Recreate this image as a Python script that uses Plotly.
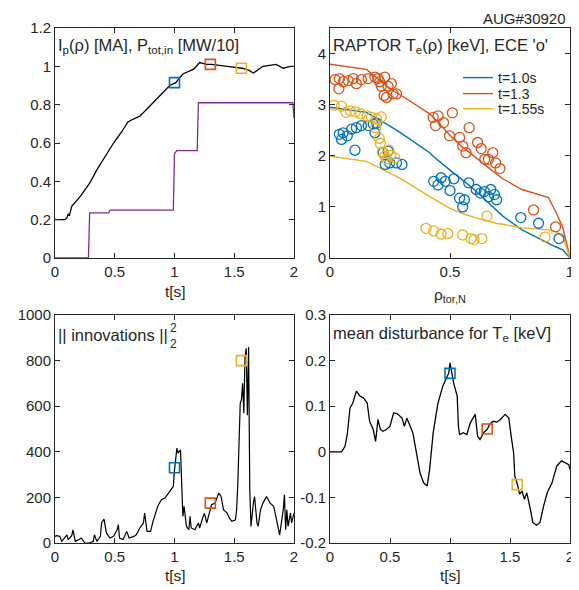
import plotly.graph_objects as go

OFF = 8  # browser body margin
W, H = 579 - OFF, 590 - OFF
BLUE, ORANGE, YELLOW, PURPLE = "#0072BD", "#D95319", "#EDB120", "#7E2F8E"
TXT = "#262626"
FONT = "Liberation Sans, Arial, sans-serif"

# ---- Panel 1: Ip and Ptot ----
ip_t = [0, 0.084, 0.1, 0.11, 0.12, 0.14, 0.21, 0.29, 0.35, 0.42, 0.49, 0.56, 0.61, 0.64, 0.71, 0.79,
        0.88, 0.96, 1.01, 1.07, 1.16, 1.21, 1.27, 1.31, 1.44, 1.565, 1.62, 1.66, 1.74, 1.85, 1.91, 1.97, 2.0]
ip_v = [0.2, 0.2, 0.21, 0.23, 0.22, 0.27, 0.32, 0.39, 0.46, 0.53, 0.6, 0.66, 0.71, 0.72, 0.74, 0.79,
        0.85, 0.9, 0.915, 0.96, 0.985, 1.02, 1.01, 1.01, 1.0, 0.99, 0.98, 0.965, 1.0, 1.01, 0.99, 1.0, 1.0]
p_t = [0, 0.28, 0.29, 0.45, 0.46, 0.99, 1.0, 1.02, 1.19, 1.2, 1.99, 2.0]
p_v = [0, 0, 0.235, 0.235, 0.25, 0.25, 0.545, 0.56, 0.56, 0.81, 0.81, 0.73]
mk1_t = [1.0, 1.3, 1.56]
mk1_v = [0.915, 1.01, 0.99]

# ---- Panel 2: Te profiles ----
rho = [0, 0.152, 0.25, 0.304, 0.415, 0.43, 0.5, 0.553, 0.567, 0.61, 0.678, 0.69, 0.72, 0.80, 0.91, 0.94, 0.97, 1.0]
te_10 = [2.95, 2.85, 2.58, 2.42, 2.06, 1.99, 1.72, 1.53, 1.47, 1.30, 1.0, 0.95, 0.82, 0.55, 0.28, 0.22, 0.16, 0.0]
te_13 = [3.79, 3.69, 3.31, 3.16, 2.82, 2.76, 2.40, 2.16, 2.12, 1.95, 1.70, 1.66, 1.55, 1.34, 1.18, 0.91, 0.6, 0.0]
te_155 = [1.99, 1.89, 1.66, 1.53, 1.2, 1.16, 0.97, 0.87, 0.85, 0.78, 0.70, 0.68, 0.66, 0.59, 0.55, 0.52, 0.41, 0.0]

ece13_r = [0.021, 0.039, 0.055, 0.037, 0.076, 0.097, 0.11, 0.131, 0.159, 0.187, 0.20, 0.207, 0.228, 0.214,
           0.242, 0.256, 0.225, 0.235, 0.263, 0.277, 0.43, 0.45, 0.44, 0.473, 0.51, 0.498, 0.54, 0.553,
           0.567, 0.58, 0.615, 0.63, 0.645, 0.66, 0.678, 0.69, 0.708, 0.848, 0.94]
ece13_v = [3.49, 3.51, 3.45, 3.31, 3.47, 3.51, 3.41, 3.49, 3.51, 3.54, 3.51, 3.45, 3.54, 3.36,
           3.36, 3.41, 3.18, 3.14, 3.21, 3.21, 2.75, 2.78, 2.59, 2.65, 2.84, 2.39, 2.36, 2.19,
           2.06, 2.55, 2.26, 2.14, 1.93, 1.93, 2.06, 1.86, 1.75, 0.94, 0.61]
ece10_r = [0.039, 0.055, 0.072, 0.048, 0.09, 0.11, 0.131, 0.159, 0.18, 0.194, 0.104, 0.187, 0.221, 0.242,
           0.23, 0.249, 0.277, 0.30, 0.432, 0.45, 0.463, 0.48, 0.5, 0.516, 0.54, 0.553, 0.56, 0.578,
           0.609, 0.627, 0.643, 0.66, 0.67, 0.685, 0.694, 0.795, 0.869, 0.954]
ece10_v = [2.42, 2.45, 2.39, 2.32, 2.52, 2.55, 2.59, 2.59, 2.62, 2.64, 2.11, 2.45, 2.06, 2.09,
           1.83, 1.86, 1.86, 1.83, 1.5, 1.43, 1.57, 1.5, 1.32, 1.55, 1.17, 1.0, 1.14, 1.47,
           1.34, 1.27, 1.3, 1.2, 1.34, 1.24, 1.14, 0.79, 0.68, 0.38]
ece155_r = [0.017, 0.048, 0.066, 0.085, 0.106, 0.127, 0.155, 0.173, 0.194, 0.214, 0.19, 0.205, 0.21, 0.218,
            0.228, 0.246, 0.253, 0.27, 0.235, 0.40, 0.432, 0.463, 0.491, 0.553, 0.588, 0.60, 0.633,
            0.654, 0.896]
ece155_v = [2.99, 2.97, 2.85, 2.88, 2.86, 2.82, 2.78, 2.75, 2.72, 2.76, 2.55, 2.34, 2.24, 2.07,
            1.99, 2.11, 2.01, 1.96, 1.94, 0.58, 0.53, 0.47, 0.48, 0.45, 0.38, 0.36, 0.38,
            0.82, 0.41]

# ---- Panel 3: innovations ----
inn_t = [0, 0.01, 0.04, 0.056, 0.08, 0.1, 0.11, 0.14, 0.15, 0.17, 0.2, 0.22, 0.25, 0.29, 0.32, 0.33, 0.35,
         0.38, 0.39, 0.41, 0.43, 0.46, 0.49, 0.52, 0.53, 0.54, 0.57, 0.6, 0.62, 0.66, 0.68, 0.71, 0.74,
         0.75, 0.77, 0.8, 0.82, 0.84, 0.86, 0.89, 0.92, 0.95, 0.99, 1.0, 1.02, 1.03, 1.05, 1.06, 1.07,
         1.08, 1.1, 1.12, 1.13, 1.14, 1.17, 1.2, 1.21, 1.24, 1.25, 1.27, 1.29, 1.31, 1.34, 1.37, 1.39,
         1.41, 1.44, 1.46, 1.48, 1.51, 1.52, 1.53, 1.55, 1.56, 1.57, 1.58, 1.59, 1.6, 1.61, 1.62, 1.63,
         1.64, 1.66, 1.67, 1.69, 1.7, 1.72, 1.74, 1.77, 1.8, 1.83, 1.86, 1.88, 1.91, 1.92, 1.93, 1.94,
         1.95, 1.97, 1.98, 2.0]
inn_v = [29, 32, 29, 7, 22, 36, 15, 32, 58, 7, 15, 22, 0, 0, 7, 36, 7,
         29, 88, 105, 44, 22, 29, 58, 80, 22, 15, 51, 22, 29, 36, 66, 88,
         131, 51, 51, 95, 131, 161, 190, 197, 219, 248, 321, 416, 394, 409, 263, 117,
         161, 73, 58, 117, 66, 58, 88, 66, 117, 131, 88, 131, 168, 175, 219, 204,
         146, 131, 109, 95, 102, 146, 263, 613, 628, 701, 569, 818, 854, 560, 860, 234,
         73, 175, 204, 88, 73, 146, 175, 204, 175, 161, 88, 36, 146, 212, 58, 146,
         73, 131, 88, 131]
mk3_t = [1.0, 1.3, 1.56]
mk3_v = [330, 175, 800]

# ---- Panel 4: mean disturbance ----
md_t = [0, 0.097, 0.125, 0.144, 0.167, 0.19, 0.22, 0.25, 0.28, 0.31, 0.33, 0.36, 0.38, 0.4, 0.42, 0.44,
        0.47, 0.5, 0.53, 0.56, 0.6, 0.62, 0.64, 0.67, 0.69, 0.72, 0.75, 0.78, 0.81, 0.83, 0.86, 0.9,
        0.94, 0.99, 1.0, 1.03, 1.06, 1.07, 1.08, 1.11, 1.14, 1.17, 1.19, 1.21, 1.23, 1.25, 1.28, 1.31,
        1.33, 1.36, 1.39, 1.42, 1.46, 1.49, 1.51, 1.53, 1.54, 1.56, 1.58, 1.6, 1.62, 1.64, 1.67, 1.69,
        1.72, 1.75, 1.78, 1.81, 1.85, 1.89, 1.93, 1.96, 1.99, 2.0]
md_v = [0, 0, 0.012, 0.038, 0.096, 0.107, 0.133, 0.122, 0.118, 0.107, 0.067, 0.049, 0.023, 0.071, 0.049, 0.045,
        0.049, 0.056, 0.085, 0.084, 0.074, 0.056, 0.074, 0.053, 0.042, -0.002, -0.046, -0.068, -0.075, -0.039, 0.042, 0.107,
        0.144, 0.173, 0.195, 0.151, 0.122, 0.056, 0.038, 0.042, 0.038, 0.064, 0.074, 0.082, 0.034, 0.027, 0.042, 0.049,
        0.060, 0.067, 0.065, 0.071, 0.082, 0.074, 0.034, -0.002, -0.053, -0.07, -0.093, -0.086, -0.104, -0.09, -0.126, -0.155,
        -0.161, -0.155, -0.119, -0.09, -0.068, -0.031, -0.02, -0.024, -0.028, -0.039]
mk4_t = [1.0, 1.31, 1.56]
mk4_v = [0.172, 0.05, -0.072]

mk_colors = [BLUE, ORANGE, YELLOW]

fig = go.Figure()

def sq(xs, ys, xa, ya):
    for x, y, c in zip(xs, ys, mk_colors):
        fig.add_trace(go.Scatter(x=[x], y=[y], mode="markers", xaxis=xa, yaxis=ya, showlegend=False,
                                 marker=dict(symbol="square-open", size=10, color=c, line=dict(width=1.6))))

# panel 1
fig.add_trace(go.Scatter(x=ip_t, y=ip_v, mode="lines", line=dict(color="black", width=1.3),
                         xaxis="x", yaxis="y", showlegend=False))
fig.add_trace(go.Scatter(x=p_t, y=p_v, mode="lines", line=dict(color=PURPLE, width=1.3),
                         xaxis="x", yaxis="y", showlegend=False))
sq(mk1_t, mk1_v, "x", "y")

# panel 2
for te, c, name, lg in [(te_10, BLUE, "t=1.0s", "legend"), (te_13, ORANGE, "t=1.3", "legend2"),
                        (te_155, YELLOW, "t=1.55s", "legend3")]:
    fig.add_trace(go.Scatter(x=rho, y=te, mode="lines", line=dict(color=c, width=1.4), name=name,
                             xaxis="x2", yaxis="y2", showlegend=True, legend=lg))
for r, v, c in [(ece10_r, ece10_v, BLUE), (ece13_r, ece13_v, ORANGE), (ece155_r, ece155_v, YELLOW)]:
    fig.add_trace(go.Scatter(x=r, y=v, mode="markers", xaxis="x2", yaxis="y2", showlegend=False,
                             marker=dict(symbol="circle-open", size=10, color=c, line=dict(width=1.3))))

# panel 3
fig.add_trace(go.Scatter(x=inn_t, y=inn_v, mode="lines", line=dict(color="black", width=1.2),
                         xaxis="x3", yaxis="y3", showlegend=False))
sq(mk3_t, mk3_v, "x3", "y3")

# panel 4
fig.add_trace(go.Scatter(x=md_t, y=md_v, mode="lines", line=dict(color="black", width=1.3),
                         xaxis="x4", yaxis="y4", showlegend=False))
sq(mk4_t, mk4_v, "x4", "y4")

def px_x(p):
    return (p - OFF) / W

def px_y(p):
    return 1 - (p - OFF) / H

ax_common = dict(showline=True, linecolor=TXT, linewidth=1, mirror="ticks", ticks="inside", ticklen=5,
                 tickcolor=TXT, showgrid=False, zeroline=False, automargin=False,
                 ticklabeloverflow="allow",
                 tickfont=dict(family=FONT, size=15, color=TXT))

dom_top = [px_y(258), px_y(28)]
dom_bot = [px_y(543), px_y(315)]
dom_left = [px_x(55), px_x(294)]
dom_right = [px_x(330), px_x(570)]

tvals_t = [0, 0.5, 1, 1.5, 2]
ttext_t = ["0", "0.5", "1", "1.5", "2"]

def leg(ypx):
    return dict(x=px_x(458), y=px_y(ypx), xanchor="left", yanchor="middle", bgcolor="rgba(0,0,0,0)",
                font=dict(family=FONT, size=14, color=TXT), itemwidth=30)

fig.update_layout(
    width=W, height=H, margin=dict(l=0, r=0, t=0, b=0),
    plot_bgcolor="white", paper_bgcolor="white",
    font=dict(family=FONT, color=TXT),
    xaxis=dict(domain=dom_left, anchor="y", range=[0, 2], tickvals=tvals_t, ticktext=ttext_t, **ax_common),
    yaxis=dict(domain=dom_top, anchor="x", range=[0, 1.2], tickvals=[0, 0.2, 0.4, 0.6, 0.8, 1, 1.2],
               ticktext=["0", "0.2", "0.4", "0.6", "0.8", "1", "1.2"], **ax_common),
    xaxis2=dict(domain=dom_right, anchor="y2", range=[0, 1], tickvals=[0, 0.5, 1],
                ticktext=["0", "0.5", "1"], **ax_common),
    yaxis2=dict(domain=dom_top, anchor="x2", range=[0, 4.5], tickvals=[0, 1, 2, 3, 4],
                ticktext=["0", "1", "2", "3", "4"], **ax_common),
    xaxis3=dict(domain=dom_left, anchor="y3", range=[0, 2], tickvals=tvals_t, ticktext=ttext_t, **ax_common),
    yaxis3=dict(domain=dom_bot, anchor="x3", range=[0, 1000], tickvals=[0, 200, 400, 600, 800, 1000],
                ticktext=["0", "200", "400", "600", "800", "1000"], **ax_common),
    xaxis4=dict(domain=dom_right, anchor="y4", range=[0, 2], tickvals=tvals_t, ticktext=ttext_t, **ax_common),
    yaxis4=dict(domain=dom_bot, anchor="x4", range=[-0.2, 0.3], tickvals=[-0.2, -0.1, 0, 0.1, 0.2, 0.3],
                ticktext=["-0.2", "-0.1", "0", "0.1", "0.2", "0.3"], **ax_common),
    legend=leg(78), legend2=leg(94), legend3=leg(109),
)

def ann(text, x, y, size=16.5, xanchor="left", yanchor="middle"):
    fig.add_annotation(text=text, x=px_x(x), y=px_y(y), xref="paper", yref="paper", showarrow=False,
                       xanchor=xanchor, yanchor=yanchor, font=dict(family=FONT, size=size, color=TXT))

ann("I<sub>p</sub>(ρ) [MA], P<sub>tot,in</sub> [MW/10]", 56, 46)
ann("RAPTOR T<sub>e</sub>(ρ) [keV], ECE 'o'", 331, 46)
ann("|| innovations ||", 56, 335)
ann("2", 168, 328, size=12)
ann("2", 168, 344, size=12)
ann("mean disturbance for T<sub>e</sub> [keV]", 331, 334)
ann("AUG#30920", 568, 8, size=15, xanchor="right", yanchor="top")
ann("t[s]", 175, 291, size=15.5, xanchor="center")
ann("ρ<sub>tor,N</sub>", 450, 295, size=15.5, xanchor="center")
ann("t[s]", 175, 575, size=15.5, xanchor="center")
ann("t[s]", 450, 575, size=15.5, xanchor="center")

fig.write_html("out.html")
